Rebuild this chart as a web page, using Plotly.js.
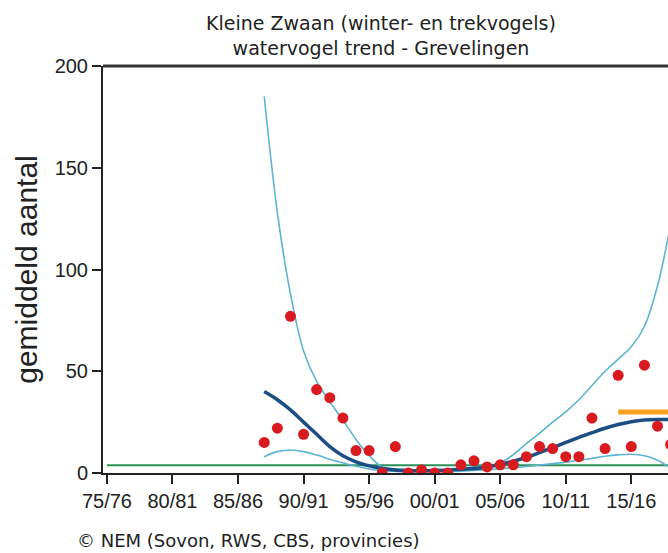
<!DOCTYPE html>
<html>
<head>
<meta charset="utf-8">
<script src="https://cdn.plot.ly/plotly-3.0.1.min.js"></script>
<style>html,body{margin:0;padding:0;background:#fff;}#chart{width:668px;height:553px;}</style>
</head>
<body>
<div id="chart"></div>
<script>
// Seasons (year of start of season)
var years = [1987,1988,1989,1990,1991,1992,1993,1994,1995,1996,1997,1998,1999,2000,2001,2002,2003,2004,2005,2006,2007,2008,2009,2010,2011,2012,2013,2014,2015,2016,2017,2018];
// Observed counts (red dots)
var counts = [15,22,77,19,41,37,27,11,11,0,13,0,1.5,0,0,4,6,3,4,4,8,13,12,8,8,27,12,48,13,53,23,14];
// Trend (thick dark blue)
var trend = [40,36,31,25,19,13,8.5,5.5,3.5,2.2,1.5,1.2,1.1,1.2,1.4,1.8,2.2,3,4.2,5.8,7.7,10,12.5,15,17.5,19.8,22,23.8,25.2,26,26.3,26.3];
// Confidence band, upper and lower (light blue)
var upper = [185,128,88,60,45,35,26,16.5,8.5,3,2,1.7,1.6,1.7,2,2.4,3,3.5,5,9,14.5,19.5,25,30,36,43,50,56,62,72,92,122];
var lower = [8,10.5,11.3,10.5,8.8,6.8,5,3.3,2,1.2,0.8,0.6,0.6,0.6,0.7,0.9,1.2,1.6,2.1,2.6,3.2,3.9,4.6,5.3,6.2,7.2,8.2,8.9,9.2,8.5,6.3,2.5];
// Reference level (green) and target (orange)
var refX = [1975, 2020];
var refY = [3.8, 3.8];
var targetX = [2014, 2020];
var targetY = [30, 30];
// Axis ticks
var tickYears = [1975,1980,1985,1990,1995,2000,2005,2010,2015];
var tickLabels = ["75/76","80/81","85/86","90/91","95/96","00/01","05/06","10/11","15/16"];
var yTicks = [0,50,100,150,200];

var lightBlue = '#5EB3D4';
var traces = [
  {x: refX, y: refY, mode: 'lines', line: {color: '#2A8F58', width: 2}, hoverinfo: 'skip'},
  {x: years, y: upper, mode: 'lines', line: {color: lightBlue, width: 1.6, shape: 'spline', smoothing: 1}},
  {x: years, y: lower, mode: 'lines', line: {color: lightBlue, width: 1.6, shape: 'spline', smoothing: 1}},
  {x: years, y: trend, mode: 'lines', line: {color: '#1C4E84', width: 3.5, shape: 'spline', smoothing: 1}},
  {x: targetX, y: targetY, mode: 'lines', line: {color: '#F5A21E', width: 5}},
  {x: years, y: counts, mode: 'markers', marker: {color: '#D91A1F', size: 11}}
];

var layout = {
  width: 668, height: 553,
  margin: {l: 103, r: 0, t: 66, b: 80, pad: 0},
  paper_bgcolor: '#fff', plot_bgcolor: '#fff',
  showlegend: false,
  title: {
    text: 'Kleine Zwaan (winter- en trekvogels)<br>watervogel trend - Grevelingen',
    font: {family: 'DejaVu Sans', size: 19, color: '#222'},
    x: 381/668, xref: 'container', xanchor: 'center',
    y: 1 - 30/553, yref: 'container', yanchor: 'top'
  },
  xaxis: {
    range: [1974.7, 2017.8],
    tickvals: tickYears, ticktext: tickLabels,
    ticks: 'outside', ticklen: 9, tickwidth: 2, tickcolor: '#222',
    showline: true, linecolor: '#222', linewidth: 2, mirror: false,
    showgrid: false, zeroline: false,
    tickfont: {family: 'Liberation Sans, Arial', size: 20, color: '#222'}
  },
  yaxis: {
    range: [0, 200],
    tickvals: yTicks,
    ticks: 'outside', ticklen: 9, tickwidth: 2, tickcolor: '#222',
    showline: true, linecolor: '#222', linewidth: 2,
    showgrid: false, zeroline: false,
    tickfont: {family: 'Liberation Sans, Arial', size: 20, color: '#222'},
    title: {text: 'gemiddeld aantal', font: {family: 'Liberation Sans, Arial', size: 30, color: '#222'}, standoff: 8}
  },
  shapes: [
    {type: 'line', xref: 'paper', yref: 'paper', x0: 0, x1: 1, y0: 1, y1: 1, line: {color: '#333', width: 3}}
  ],
  annotations: [
    {text: '© NEM (Sovon, RWS, CBS, provincies)', xref: 'paper', yref: 'paper', x: (75-103)/565, y: (473-540)/407,
     xanchor: 'left', yanchor: 'middle', showarrow: false, font: {family: 'DejaVu Sans', size: 18, color: '#222'}}
  ]
};

Plotly.newPlot('chart', traces, layout, {displayModeBar: false, staticPlot: true});
</script>
</body>
</html>
